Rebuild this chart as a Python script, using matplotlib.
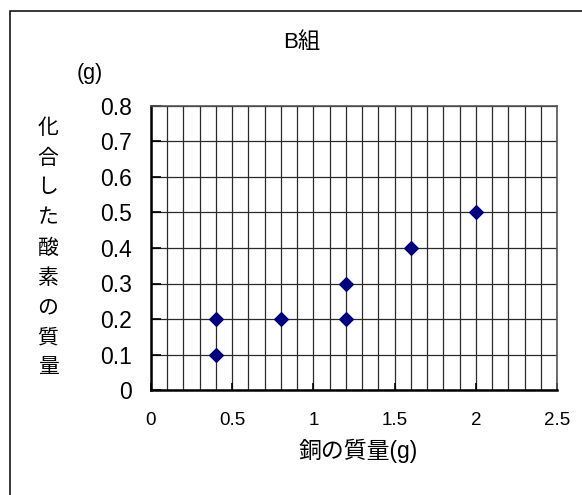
import numpy as np
import matplotlib
matplotlib.use("Agg")
import matplotlib.pyplot as plt
from matplotlib.patches import Rectangle
from matplotlib.ticker import MultipleLocator

plt.rcParams['font.family'] = ['Liberation Sans', 'Noto Sans CJK JP', 'DejaVu Sans']

# data
copper_mass = [0.4, 0.4, 0.8, 1.2, 1.2, 1.6, 2.0]
oxygen_mass = [0.2, 0.1, 0.2, 0.3, 0.2, 0.4, 0.5]
title = "B組"
x_label = "銅の質量(g)"
y_label = "化合した酸素の質量"
y_unit = "(g)"

W, H = 582, 495
fig = plt.figure(figsize=(W / 100, H / 100), dpi=100)

# outer frame (only top / left edges visible in the picture)
fig.patches.append(Rectangle((9.5 / W, -0.2), 1.3, 1.2 - 10.5 / H, transform=fig.transFigure,
                             fill=False, edgecolor='black', linewidth=1.1))

ax = fig.add_axes([151 / W, 1 - 390 / H, 406 / W, 284 / H])
ax.scatter(copper_mass, oxygen_mass, marker='D', s=48, color='#000080', zorder=3, clip_on=False)

ax.set_xlim(0, 2.5)
ax.set_ylim(0, 0.8)
ax.xaxis.set_major_locator(MultipleLocator(0.5))
ax.xaxis.set_minor_locator(MultipleLocator(0.1))
ax.yaxis.set_major_locator(MultipleLocator(0.1))
ax.grid(which='both', axis='x', color='#2a2a2a', linewidth=0.9)
ax.grid(which='major', axis='y', color='#2a2a2a', linewidth=0.9)
ax.set_axisbelow(True)

ax.set_xticks([0, 0.5, 1, 1.5, 2, 2.5])
ax.set_xticklabels(['0', '0.5', '1', '1.5', '2', '2.5'])
ax.set_yticks(np.arange(0, 0.81, 0.1))
ax.set_yticklabels(['0', '0.1', '0.2', '0.3', '0.4', '0.5', '0.6', '0.7', '0.8'])
ax.tick_params(axis='x', which='major', direction='in', length=5, width=1.2, labelsize=13.5, pad=16)
ax.tick_params(axis='x', which='minor', length=0)
ax.tick_params(axis='y', direction='in', length=7, width=1.2, labelsize=16.5, pad=14)

for s in ['left', 'bottom']:
    ax.spines[s].set_linewidth(1.8)
    ax.spines[s].set_color('black')
for s in ['top', 'right']:
    ax.spines[s].set_linewidth(1.2)
    ax.spines[s].set_color('#555555')

fig.text(302 / W, 1 - 42 / H, title, ha='center', va='center', fontsize=16)
fig.text(90 / W, 1 - 73 / H, y_unit, ha='center', va='center', fontsize=15.5)
fig.text(358 / W, 1 - 451 / H, x_label, ha='center', va='center', fontsize=16.5)

# vertical y label, one character per line
for i, ch in enumerate(y_label):
    fig.text(48 / W, 1 - (128 + i * 30) / H, ch, ha='center', va='center', fontsize=15)

fig.savefig("out.png", dpi=100)
